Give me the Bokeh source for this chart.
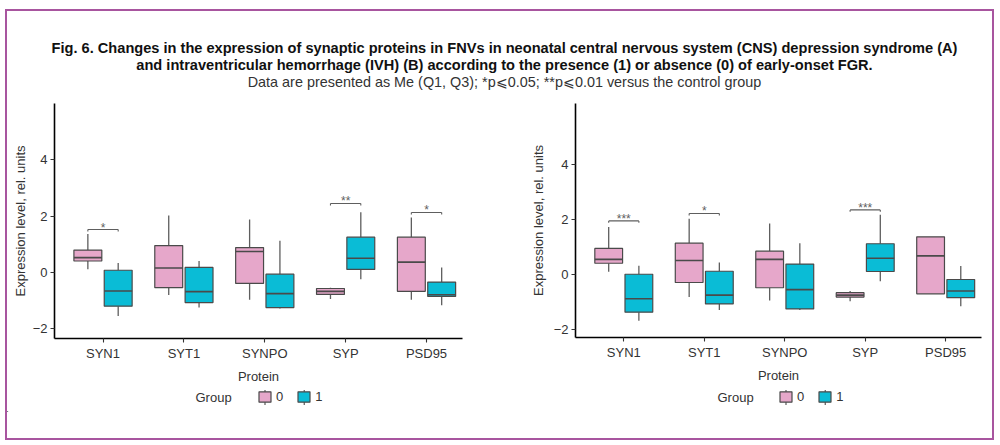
from bokeh.plotting import figure
from bokeh.layouts import row, column
from bokeh.models import (Range1d, FixedTicker, Legend, LegendItem,
                          ColumnDataSource, Spacer)
from bokeh.embed import file_html
from bokeh.resources import INLINE
from bokeh.core.properties import value

# ---------------- data ----------------
proteins = ["SYN1", "SYT1", "SYNPO", "SYP", "PSD95"]
groups = ["0", "1"]

# Panel A (CNS depression syndrome): whisker low, Q1, median, Q3, whisker high
a0_low = [0.11, -0.81, -0.98, -0.95, -0.98]
a0_q1 = [0.40, -0.55, -0.40, -0.79, -0.68]
a0_med = [0.52, 0.15, 0.74, -0.68, 0.36]
a0_q3 = [0.79, 0.95, 0.88, -0.58, 1.25]
a0_high = [1.36, 2.02, 1.88, -0.55, 1.95]

a1_low = [-1.56, -1.26, -1.29, -0.25, -1.18]
a1_q1 = [-1.21, -1.08, -1.26, 0.10, -0.86]
a1_med = [-0.67, -0.69, -0.76, 0.50, -0.80]
a1_q3 = [0.07, 0.17, -0.07, 1.25, -0.35]
a1_high = [0.33, 0.40, 1.12, 2.14, 0.17]

# Panel B (IVH)
b0_low = [0.11, -0.81, -0.93, -0.96, -0.69]
b0_q1 = [0.42, -0.28, -0.47, -0.81, -0.69]
b0_med = [0.56, 0.52, 0.56, -0.74, 0.69]
b0_q3 = [0.96, 1.15, 0.86, -0.65, 1.38]
b0_high = [1.74, 2.04, 1.87, -0.59, 1.38]

b1_low = [-1.67, -1.28, -1.28, -0.23, -1.14]
b1_q1 = [-1.36, -1.06, -1.24, 0.12, -0.83]
b1_med = [-0.87, -0.74, -0.54, 0.60, -0.59]
b1_q3 = [0.02, 0.13, 0.39, 1.13, -0.17]
b1_high = [0.33, 0.45, 1.15, 2.18, 0.32]

# significance brackets: protein, bracket height, stars
a_sig_protein = ["SYN1", "SYP", "PSD95"]
a_sig_y = [1.52, 2.45, 2.13]
a_sig_stars = ["*", "**", "*"]

b_sig_protein = ["SYN1", "SYT1", "SYP"]
b_sig_y = [1.96, 2.23, 2.36]
b_sig_stars = ["***", "*", "***"]

y_ticks = [-2, 0, 2, 4]

title_lines = [
    "Fig. 6. Changes in the expression of synaptic proteins in FNVs in neonatal central nervous system (CNS) depression syndrome (A)",
    "and intraventricular hemorrhage (IVH) (B) according to the presence (1) or absence (0) of early-onset FGR.",
    "Data are presented as Me (Q1, Q3); *p\u2a7d0.05; **p\u2a7d0.01 versus the control group",
]

# ---------------- style ----------------
FONT = "Liberation Sans"
PINK = "#e6a7ca"
CYAN = "#0abcd6"
EDGE = "#4a4a4a"
WHISK = "#5e5e5e"
TEXT = "#333333"
FRAME = "#a8559f"

DODGE = 0.1875
BOX_W = 0.345
COLORS = [PINK, CYAN]


def make_panel(stats, sig_protein, sig_y, sig_stars, y_lo, y_hi,
               frame_w, frame_h, left, right, ylab_standoff):
    p = figure(output_backend="svg", toolbar_location=None,
               frame_width=frame_w, frame_height=frame_h,
               x_range=Range1d(0.4, 5.445), y_range=Range1d(y_lo, y_hi),
               min_border_left=left, min_border_right=right,
               min_border_top=12, min_border_bottom=293 - 12 - frame_h,
               background_fill_color="white", border_fill_color="white",
               outline_line_color=None)
    p.grid.visible = False

    for gi, col in enumerate(COLORS):
        low, q1, med, q3, high = stats[gi]
        off = -DODGE if gi == 0 else DODGE
        xs = [i + 1 + off for i in range(len(proteins))]
        src = ColumnDataSource(dict(x=xs, x0=[x - BOX_W / 2 for x in xs],
                                    x1=[x + BOX_W / 2 for x in xs],
                                    low=low, q1=q1, med=med, q3=q3, high=high))
        p.segment(x0="x", y0="q3", x1="x", y1="high", source=src,
                  line_color=WHISK, line_width=1.3)
        p.segment(x0="x", y0="low", x1="x", y1="q1", source=src,
                  line_color=WHISK, line_width=1.3)
        p.vbar(x="x", width=BOX_W, bottom="q1", top="q3", source=src,
               fill_color=col, line_color=EDGE, line_width=1.2)
        p.segment(x0="x0", y0="med", x1="x1", y1="med", source=src,
                  line_color=EDGE, line_width=1.6)

    # significance brackets between the two groups of a protein
    bx0 = [proteins.index(n) + 1 - DODGE for n in sig_protein]
    bx1 = [proteins.index(n) + 1 + DODGE for n in sig_protein]
    tick = 0.07
    bsrc = ColumnDataSource(dict(x0=bx0, x1=bx1, y=sig_y,
                                 yt=[v - tick for v in sig_y],
                                 xm=[(a + b) / 2 for a, b in zip(bx0, bx1)],
                                 s=sig_stars))
    p.segment(x0="x0", y0="y", x1="x1", y1="y", source=bsrc,
              line_color=WHISK, line_width=1.1)
    p.segment(x0="x0", y0="y", x1="x0", y1="yt", source=bsrc,
              line_color=WHISK, line_width=1.1)
    p.segment(x0="x1", y0="y", x1="x1", y1="yt", source=bsrc,
              line_color=WHISK, line_width=1.1)
    p.text(x="xm", y="y", text="s", source=bsrc, text_align="center",
           text_baseline="bottom", y_offset=5, text_font=value(FONT),
           text_font_size="12px", text_color=WHISK)

    # axes
    p.xaxis.ticker = FixedTicker(ticks=[i + 1 for i in range(len(proteins))])
    p.xaxis.major_label_overrides = {i + 1: n for i, n in enumerate(proteins)}
    p.yaxis.ticker = FixedTicker(ticks=y_ticks)
    p.xaxis.axis_label = "Protein"
    p.yaxis.axis_label = "Expression level, rel. units"
    p.xaxis.axis_label_standoff = 5
    p.yaxis.axis_label_standoff = ylab_standoff
    for ax in (p.xaxis, p.yaxis):
        ax.axis_line_color = "black"
        ax.axis_line_width = 1.6
        ax.major_tick_line_color = "#333333"
        ax.major_tick_line_width = 1.1
        ax.major_tick_in = 0
        ax.major_tick_out = 4
        ax.minor_tick_line_color = None
        ax.major_label_text_font = FONT
        ax.major_label_text_font_size = "13px"
        ax.major_label_text_color = TEXT
        ax.major_label_standoff = 3
        ax.axis_label_text_font = FONT
        ax.axis_label_text_font_size = "13px"
        ax.axis_label_text_font_style = "normal"
        ax.axis_label_text_color = TEXT
    return p


pA = make_panel([(a0_low, a0_q1, a0_med, a0_q3, a0_high),
                 (a1_low, a1_q1, a1_med, a1_q3, a1_high)],
                a_sig_protein, a_sig_y, a_sig_stars,
                -2.36, 6.01, 408, 235, 47, 38, 2)

pB = make_panel([(b0_low, b0_q1, b0_med, b0_q3, b0_high),
                 (b1_low, b1_q1, b1_med, b1_q3, b1_high)],
                b_sig_protein, b_sig_y, b_sig_stars,
                -2.28, 6.23, 406, 234, 75, 11, 5)

# legend strip under both panels (pixel coordinates, origin bottom-left)
LEG_H = 26
KEY_W, KEY_H, STANDOFF, SPACING = 15, 13, 4, 13
LABEL_TEXT_W = 7.23  # width of a one-digit label at 13px
legfig = figure(output_backend="svg", toolbar_location=None, width=985, height=LEG_H,
                x_range=Range1d(0, 985), y_range=Range1d(0, LEG_H), min_border=0,
                outline_line_color=None, background_fill_color="white",
                border_fill_color="white")
legfig.axis.visible = False
legfig.grid.visible = False
row_mid = 15
title_x = [188, 710]
key_x = [250, 771]
# whisker stubs of the boxplot keys, drawn beneath the legend boxes
stub_x = [kx + KEY_W / 2 + j * (KEY_W + STANDOFF + LABEL_TEXT_W + SPACING)
          for kx in key_x for j in range(len(groups))]
legfig.segment(x0=stub_x, y0=[row_mid - 7.5] * len(stub_x), x1=stub_x,
               y1=[row_mid + 7.5] * len(stub_x), line_color=EDGE, line_width=1.1)
legfig.text(x=title_x, y=[row_mid] * 2, text=["Group"] * 2, text_align="left",
            text_baseline="middle", text_font=value(FONT), text_font_size="13px",
            text_color=TEXT)
# key renderers: one box each, parked outside the visible strip
keys = [legfig.vbar(x=[-100], top=[1], width=1, fill_color=c, line_color=EDGE,
                    line_width=1.2) for c in COLORS]
for kx in key_x:
    leg = Legend(items=[LegendItem(label=g, renderers=[k]) for g, k in zip(groups, keys)],
                 orientation="horizontal", location=(kx, row_mid - 7),
                 padding=0, margin=0, spacing=SPACING, glyph_width=KEY_W,
                 glyph_height=KEY_H, label_width=7, label_height=KEY_H,
                 label_standoff=STANDOFF, label_text_font=FONT,
                 label_text_font_size="13px", label_text_color=TEXT,
                 background_fill_alpha=0, border_line_color=None)
    legfig.add_layout(leg, "center")

# header with the figure caption
head = figure(output_backend="svg", toolbar_location=None, width=985, height=80,
              x_range=Range1d(0, 985), y_range=Range1d(80, 0),
              min_border=0, outline_line_color=None,
              background_fill_color="white", border_fill_color="white")
head.axis.visible = False
head.grid.visible = False
hsrc = ColumnDataSource(dict(x=[497, 497], y=[36.5, 53], t=title_lines[:2]))
head.text(x="x", y="y", text="t", source=hsrc, text_align="center",
          text_baseline="alphabetic", text_font=value(FONT), text_font_size="14.6px",
          text_font_style="bold", text_color="#111111")
head.text(x=[497], y=[70], text=[title_lines[2]], text_align="center",
          text_baseline="alphabetic", text_font=value(FONT), text_font_size="14.4px",
          text_color=TEXT)

layout = column(head, row(pA, pB, spacing=0), legfig, Spacer(width=985, height=26),
                spacing=0, margin=(9, 0, 0, 5),
                styles={"border": "2px solid " + FRAME, "background": "white"})

open("out.html", "w").write(file_html(layout, INLINE))
